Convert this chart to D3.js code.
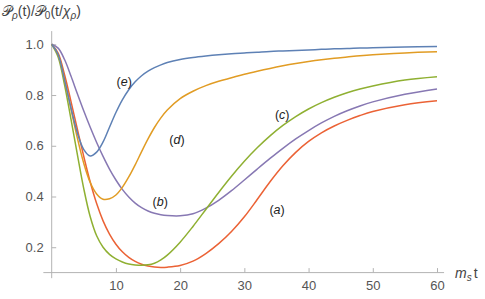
<!DOCTYPE html>
<html>
<head>
<meta charset="utf-8">
<script src="https://cdn.jsdelivr.net/npm/d3@7"></script>
<style>
  body { margin: 0; background: #fff; }
  svg { display: block; font-family: "Liberation Sans", Arial, sans-serif; }
</style>
</head>
<body>
<div id="chart"></div>
<script>
// sample times (m_s t)
const tValues = [0, 1, 2, 3, 4, 5, 6, 7, 8, 9, 10, 11, 12, 13, 14, 15, 16, 17, 18,
  20, 22, 24, 26, 28, 30, 32, 34, 36, 38, 40, 42, 44, 46, 48, 50, 55, 60];

// curves
const curveA = [1, 0.965, 0.88, 0.775, 0.665, 0.557, 0.457, 0.372, 0.304, 0.252, 0.212, 0.182, 0.16, 0.144, 0.133, 0.126, 0.122, 0.1205, 0.1215,
  0.128, 0.145, 0.175, 0.214, 0.262, 0.32, 0.388, 0.458, 0.521, 0.574, 0.617, 0.651, 0.678, 0.7, 0.719, 0.735, 0.762, 0.777];
const curveB = [1, 0.985, 0.94, 0.875, 0.805, 0.737, 0.673, 0.613, 0.558, 0.508, 0.465, 0.428, 0.398, 0.374, 0.356, 0.343, 0.334, 0.328, 0.325,
  0.324, 0.332, 0.354, 0.385, 0.423, 0.465, 0.508, 0.55, 0.59, 0.627, 0.66, 0.69, 0.716, 0.738, 0.757, 0.773, 0.803, 0.824];
const curveC = [1, 0.95, 0.84, 0.705, 0.565, 0.43, 0.32, 0.245, 0.2, 0.172, 0.154, 0.142, 0.134, 0.13, 0.1285, 0.1305, 0.137, 0.15, 0.169,
  0.22, 0.282, 0.349, 0.416, 0.48, 0.539, 0.592, 0.639, 0.68, 0.715, 0.745, 0.77, 0.791, 0.809, 0.824, 0.836, 0.859, 0.872];
const curveD = [1, 0.96, 0.86, 0.745, 0.63, 0.53, 0.455, 0.41, 0.389, 0.391, 0.406, 0.436, 0.477, 0.525, 0.577, 0.627, 0.672, 0.71, 0.741,
  0.786, 0.815, 0.837, 0.854, 0.868, 0.882, 0.894, 0.905, 0.915, 0.924, 0.932, 0.939, 0.945, 0.95, 0.955, 0.959, 0.966, 0.971];
const curveE = [1, 0.96, 0.86, 0.75, 0.65, 0.585, 0.56, 0.575, 0.615, 0.673, 0.731, 0.781, 0.821, 0.852, 0.876, 0.894, 0.908, 0.919, 0.928,
  0.94, 0.948, 0.954, 0.959, 0.963, 0.966, 0.969, 0.972, 0.974, 0.976, 0.978, 0.98, 0.982, 0.983, 0.985, 0.986, 0.989, 0.991];

const seriesNames = ["a", "b", "c", "d", "e"];
const seriesColors = ["#EB6235", "#8778B3", "#8FB032", "#E19C24", "#5E81B5"];
const seriesValues = [curveA, curveB, curveC, curveD, curveE];
// where the (a)..(e) tags sit, in data units
const labelT = [35.1, 16.9, 35.9, 19.5, 11.3];
const labelV = [0.347, 0.38, 0.721, 0.623, 0.853];

const xMajor = [10, 20, 30, 40, 50, 60];
const yMajor = [0.2, 0.4, 0.6, 0.8, 1.0];

const width = 485, height = 299;

const x = d3.scaleLinear().domain([0, 60]).range([51.7, 437]);
const y = d3.scaleLinear().domain([0.1, 1.0]).range([272.6, 44.3]);

const svg = d3.select("#chart").append("svg")
  .attr("width", width)
  .attr("height", height);

const axisColor = "#b3b3b3";
const tickText = "#555";

// x axis
const xMinor = d3.range(2, 61, 2).filter(function (d) { return d % 10 !== 0; });
const gx = svg.append("g").attr("transform", "translate(0," + y(0.1) + ")");
gx.call(d3.axisBottom(x).tickValues(xMinor).tickSizeInner(-2.5).tickSizeOuter(0).tickFormat(""));
gx.call(d3.axisBottom(x).tickValues(xMajor).tickSizeInner(-4.5).tickSizeOuter(0).tickPadding(8).tickFormat(d3.format("d")));
gx.selectAll(".domain").remove();
gx.append("line")
  .attr("x1", x(-1.3)).attr("x2", x(61.1))
  .attr("stroke", axisColor);

// y axis
const yMinor = d3.range(0.15, 1.051, 0.05).filter(function (d) { return Math.abs(d * 5 - Math.round(d * 5)) > 1e-6; });
const gy = svg.append("g").attr("transform", "translate(" + x(0) + ",0)");
gy.call(d3.axisLeft(y).tickValues(yMinor).tickSizeInner(-2.5).tickSizeOuter(0).tickFormat(""));
gy.call(d3.axisLeft(y).tickValues(yMajor).tickSizeInner(-4.5).tickSizeOuter(0).tickPadding(8).tickFormat(d3.format(".1f")));
gy.selectAll(".domain").remove();
gy.append("line")
  .attr("y1", y(1.052)).attr("y2", y(0.078))
  .attr("stroke", axisColor);

svg.selectAll(".tick line").attr("stroke", axisColor);
svg.selectAll(".tick text")
  .attr("fill", tickText)
  .style("font-size", "13px")
  .style("font-family", "'Liberation Sans', Arial, sans-serif");

// curves
const line = d3.line()
  .x(function (d) { return x(d[0]); })
  .y(function (d) { return y(d[1]); })
  .curve(d3.curveCatmullRom.alpha(0.5));

seriesValues.forEach(function (vals, i) {
  svg.append("path")
    .datum(tValues.map(function (t, j) { return [t, vals[j]]; }))
    .attr("fill", "none")
    .attr("stroke", seriesColors[i])
    .attr("stroke-width", 1.5)
    .attr("d", line);
});

// curve tags
seriesNames.forEach(function (n, i) {
  const tx = svg.append("text")
    .attr("x", x(labelT[i]))
    .attr("y", y(labelV[i]))
    .attr("dy", "0.35em")
    .attr("text-anchor", "middle")
    .attr("fill", "#222")
    .style("font-size", "12.5px");
  tx.append("tspan").text("(");
  tx.append("tspan").style("font-style", "italic").text(n);
  tx.append("tspan").text(")");
});

// axis titles
const xt = svg.append("text")
  .attr("x", 455)
  .attr("y", 278)
  .attr("fill", "#444")
  .style("font-size", "14px");
xt.append("tspan").style("font-style", "italic").text("m");
xt.append("tspan").style("font-style", "italic").style("font-size", "10px").attr("dy", 3).text("s");
xt.append("tspan").attr("dy", -3).attr("dx", 2).text("t");

const yt = svg.append("text")
  .attr("x", 2)
  .attr("y", 16)
  .attr("fill", "#444")
  .style("font-size", "14px");
yt.append("tspan").text("\uD835\uDCAB");
yt.append("tspan").style("font-style", "italic").style("font-size", "10px").attr("dy", 3).text("\u03C1");
yt.append("tspan").attr("dy", -3).text("(t)/");
yt.append("tspan").text("\uD835\uDCAB");
yt.append("tspan").style("font-size", "10px").attr("dy", 3).text("0");
yt.append("tspan").attr("dy", -3).text("(t/");
yt.append("tspan").style("font-style", "italic").text("\u03C7");
yt.append("tspan").style("font-style", "italic").style("font-size", "10px").attr("dy", 3).text("\u03C1");
yt.append("tspan").attr("dy", -3).text(")");
</script>
</body>
</html>
